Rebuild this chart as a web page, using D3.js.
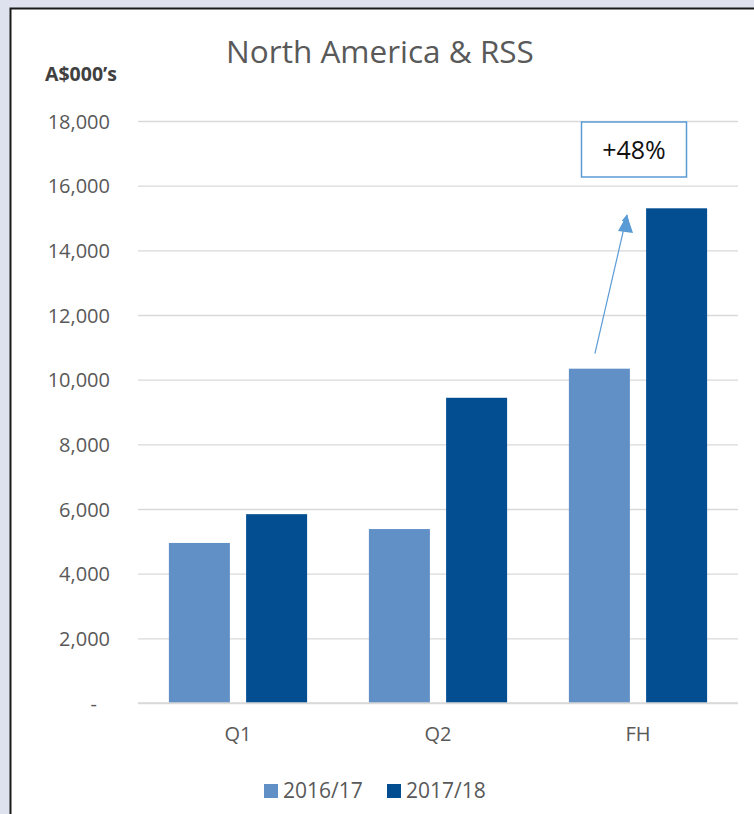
<!DOCTYPE html>
<html><head><meta charset="utf-8">
<script src="https://cdn.jsdelivr.net/npm/d3@7"></script>
<style>html,body{margin:0;padding:0;background:#dee2ef;}svg{display:block;}</style>
</head><body>
<script>
const categories = ["Q1", "Q2", "FH"];
const seriesNames = ["2016/17", "2017/18"];
const values2016 = [4950, 5380, 10340];
const values2017 = [5840, 9440, 15300];
const yTicks = [0, 2000, 4000, 6000, 8000, 10000, 12000, 14000, 16000, 18000];
const annotationText = "+48%";

const W = 754, H = 814;
const colors = ["#6190c7", "#034e91"];
const font = "'Open Sans', sans-serif";
const svg = d3.select("body").append("svg").attr("width", W).attr("height", H);

// chart frame
svg.append("rect").attr("x", 10.5).attr("y", 8.5).attr("width", W + 10).attr("height", H + 10)
  .attr("fill", "#fff").attr("stroke", "#1a1a1a").attr("stroke-width", 2);

const x0 = d3.scaleBand().domain(categories).range([138, 738]).paddingInner(0).paddingOuter(0);
const x1 = d3.scaleBand().domain(seriesNames).range([0, x0.bandwidth()]).paddingInner(0.21).paddingOuter(0.4);
const y = d3.scaleLinear().domain([0, 18000]).range([703, 121]);

// gridlines
const yAxis = d3.axisLeft(y).tickValues(yTicks).tickSize(-600)
  .tickFormat(d => d === 0 ? "-" : d3.format(",")(d)).tickPadding(28);
const gy = svg.append("g").attr("transform", "translate(138,0)").call(yAxis);
gy.select(".domain").remove();
gy.selectAll(".tick line").attr("stroke", "#d9d9d9").attr("stroke-width", 1.3);
gy.selectAll(".tick text").attr("fill", "#595959").style("font-family", font).style("font-size", "20px")
  .attr("dy", "0.36em");
gy.selectAll(".tick").filter(d => d === 0).select("text").attr("dx", "-13");

// bars
const data = categories.map((c, i) => ({c, vals: [values2016[i], values2017[i]]}));
const groups = svg.append("g").selectAll("g").data(data).join("g")
  .attr("transform", d => `translate(${x0(d.c)},0)`);
groups.selectAll("rect").data(d => d.vals.map((v, j) => ({v, s: seriesNames[j], j})))
  .join("rect")
  .attr("x", d => x1(d.s)).attr("width", x1.bandwidth())
  .attr("y", d => y(d.v)).attr("height", d => y(0) - y(d.v))
  .attr("fill", d => colors[d.j]);

// baseline
svg.append("line").attr("x1", 138).attr("x2", 738).attr("y1", y(0)).attr("y2", y(0))
  .attr("stroke", "#d9d9d9").attr("stroke-width", 1.5);

// x axis labels
const xAxis = d3.axisBottom(x0).tickSize(0).tickPadding(24);
const gx = svg.append("g").attr("transform", `translate(0,${y(0)})`).call(xAxis);
gx.select(".domain").remove();
gx.selectAll(".tick text").attr("fill", "#595959").style("font-family", font).style("font-size", "20px");

// title
svg.append("text").attr("x", 380).attr("y", 63).attr("text-anchor", "middle")
  .attr("fill", "#595959").style("font-family", font).style("font-size", "31.5px")
  .text("North America & RSS");
svg.append("text").attr("x", 45).attr("y", 81).attr("fill", "#404040")
  .style("font-family", font).style("font-size", "19.5px").style("font-weight", "bold")
  .text("A$000\u2019s");

// legend
const legend = svg.append("g").attr("transform", "translate(264,784)");
const li = legend.selectAll("g").data(seriesNames).join("g")
  .attr("transform", (d, i) => `translate(${i * 123},0)`);
li.append("rect").attr("width", 14).attr("height", 14).attr("fill", (d, i) => colors[i]);
li.append("text").attr("x", 19).attr("y", 14).attr("fill", "#595959")
  .style("font-family", font).style("font-size", "21px").text(d => d);

// annotation
const defs = svg.append("defs");
defs.append("marker").attr("id", "arr").attr("viewBox", "0 0 10 10").attr("refX", 9).attr("refY", 5)
  .attr("markerWidth", 8).attr("markerHeight", 8).attr("markerUnits", "userSpaceOnUse").attr("orient", "auto")
  .append("path").attr("d", "M0,0 L10,5 L0,10 z").attr("fill", "#5b9bd5");
const fhStart = x0("FH") + x1("2016/17") + x1.bandwidth() / 2;
svg.append("line")
  .attr("x1", fhStart - 4.5).attr("y1", y(values2016[2]) - 15)
  .attr("x2", 627).attr("y2", 215)
  .attr("stroke", "#5b9bd5").attr("stroke-width", 1.2).attr("marker-end", "url(#arr)");
svg.append("path").attr("d", "M627,215 L618,231 L633,233 Z").attr("fill", "#5b9bd5");
svg.append("rect").attr("x", 581.5).attr("y", 122).attr("width", 105).attr("height", 55)
  .attr("fill", "#fff").attr("stroke", "#5b9bd5").attr("stroke-width", 1.5);
svg.append("text").attr("x", 634).attr("y", 159).attr("text-anchor", "middle").attr("fill", "#111")
  .style("font-family", font).style("font-size", "25px").text(annotationText);
</script>
</body></html>
